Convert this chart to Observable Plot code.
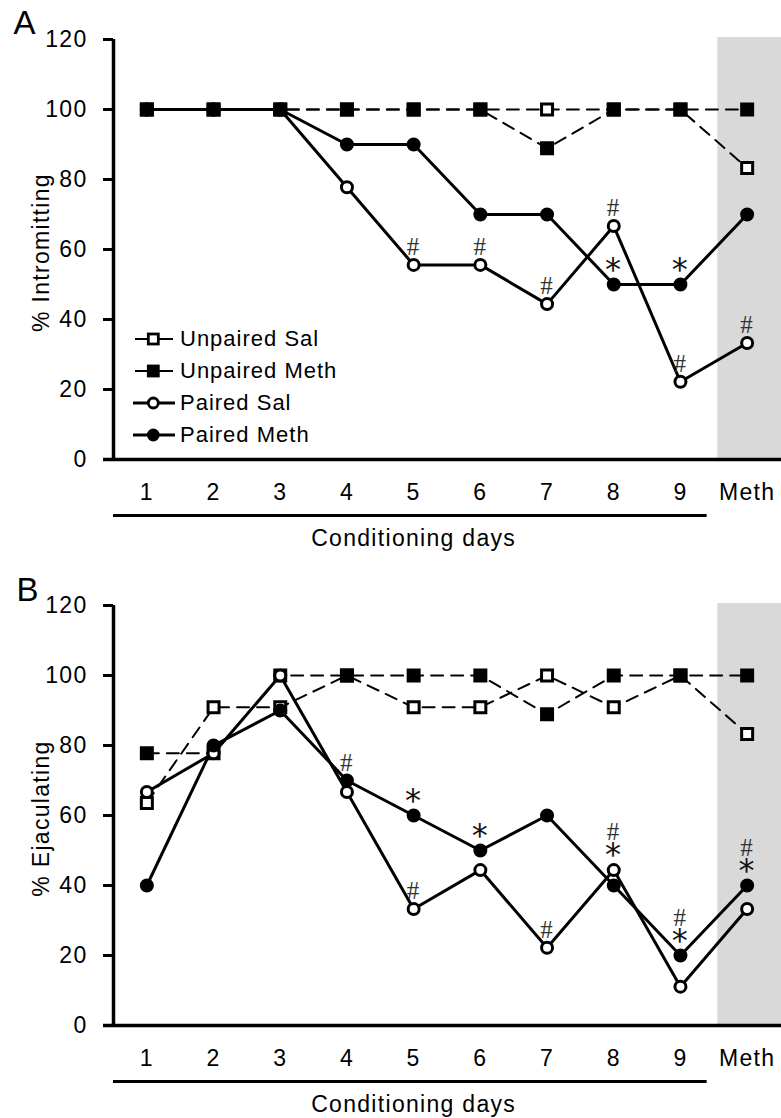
<!DOCTYPE html>
<html><head><meta charset="utf-8">
<script src="https://cdn.jsdelivr.net/npm/d3@7"></script>
<script src="https://cdn.jsdelivr.net/npm/@observablehq/plot@0.6"></script>
<style>
body{margin:0;background:#fff;}
#wrap{position:relative;width:781px;}
#wrap > svg{display:block}
.legend{position:absolute;left:130px;top:323px;font-family:"Liberation Sans",Arial,sans-serif;font-size:22px;letter-spacing:1px;color:#000}
.legend .row{display:flex;align-items:center;height:32px}
.legend .row svg{width:50px;height:32px;display:block}
</style></head><body><div id="wrap"></div>
<script>
// ---- data ----
const days = ["1","2","3","4","5","6","7","8","9","Meth"];
const yTicks = [0,20,40,60,80,100,120];
const seriesNames = ["Unpaired Sal","Unpaired Meth","Paired Sal","Paired Meth"];
const xAxisTitle = "Conditioning days";
// Panel A: % Intromitting
const intromUnpairedSal  = [100,100,100,100,100,100,100,100,100,83.3];
const intromUnpairedMeth = [100,100,100,100,100,100,88.9,100,100,100];
const intromPairedSal    = [100,100,100,77.8,55.6,55.6,44.4,66.7,22.2,33.3];
const intromPairedMeth   = [100,100,100,90,90,70,70,50,50,70];
// Panel B: % Ejaculating
const ejacUnpairedSal  = [63.6,90.9,90.9,100,90.9,90.9,100,90.9,100,83.3];
const ejacUnpairedMeth = [77.8,77.8,100,100,100,100,88.9,100,100,100];
const ejacPairedSal    = [66.7,77.8,100,66.7,33.3,44.4,22.2,44.4,11.1,33.3];
const ejacPairedMeth   = [40,80,90,70,60,50,60,40,20,40];
// significance markers: [day, series they sit above]
const intromHash = [["5","Paired Sal"],["6","Paired Sal"],["7","Paired Sal"],["8","Paired Sal"],["9","Paired Sal"],["Meth","Paired Sal"]];
const intromHashStacked = [];
const intromStar = [["8","Paired Meth"],["9","Paired Meth"]];
const ejacHash = [["4","Paired Meth"],["5","Paired Sal"],["7","Paired Sal"]];
const ejacHashStacked = [["8","Paired Sal"],["9","Paired Meth"],["Meth","Paired Meth"]];
const ejacStar = [["5","Paired Meth"],["6","Paired Meth"],["8","Paired Sal"],["9","Paired Meth"],["Meth","Paired Meth"]];

// ---- styles ----
const styleOf = {
  "Unpaired Sal":  {dash: "12,8", width: 2, symbol: "square", fill: "white"},
  "Unpaired Meth": {dash: "12,8", width: 2, symbol: "square", fill: "black"},
  "Paired Sal":    {dash: null,   width: 3, symbol: "circle", fill: "white"},
  "Paired Meth":   {dash: null,   width: 3, symbol: "circle", fill: "black"}
};
const xpos = d => days.indexOf(d) + 1;
const xDomain = [0.5, days.length + 0.5];
const yDomain = [0, 120];
const SANS = '"Liberation Sans", Arial, sans-serif';

function table(values) {
  return seriesNames.flatMap((s, k) => days.map((d, i) => ({series: s, day: d, value: values[k][i]})));
}

function panel({values, yLabel, letter, letterDx, letterDy, height, hash, hashStacked, star}) {
  const rows = table(values);
  const val = (day, s) => rows.find(r => r.day === day && r.series === s).value;
  const marks = [
    Plot.rect(["Meth"], {x1: d => xpos(d) - 0.5, x2: d => xpos(d) + 0.5, y1: () => yDomain[0], y2: () => yDomain[1],
      insetLeft: 4, insetRight: -1, insetTop: -2, fill: "#d9d9d9"}),
    Plot.axisY({ticks: yTicks, tickSize: 10, tickPadding: 16, strokeWidth: 3, fontSize: 23, label: null}),
    Plot.axisX({ticks: days.map(xpos), tickFormat: v => days[v - 1], tickSize: 0, tickPadding: 24, fontSize: 23, label: null}),
    Plot.ruleY([yDomain[0]], {insetLeft: -10, insetRight: -1, strokeWidth: 3.5}),
    Plot.ruleX([xDomain[0]], {y1: () => yDomain[0], y2: () => yDomain[1], strokeWidth: 3.5}),
    Plot.ruleY([yDomain[0]], {x1: () => xpos("1") - 0.5, x2: () => xpos("9") + 0.4, dy: 56, strokeWidth: 3}),
    Plot.text([xAxisTitle], {x: () => (xpos("1") + xpos("9")) / 2, y: () => yDomain[0], dy: 86, lineAnchor: "bottom", fontSize: 23}),
    Plot.text([yLabel], {frameAnchor: "left", rotate: -90, textAnchor: "middle", lineAnchor: "middle", dx: -72, dy: 3, fontSize: 23}),
    Plot.text([letter], {frameAnchor: "top-left", dx: letterDx, dy: letterDy, textAnchor: "start", lineAnchor: "bottom", fontSize: 33})
  ];
  for (const s of seriesNames) {
    const st = styleOf[s];
    marks.push(Plot.line(rows.filter(r => r.series === s), {x: r => xpos(r.day), y: "value", stroke: "black",
      strokeWidth: st.width, strokeDasharray: st.dash || undefined}));
  }
  for (const s of seriesNames) {
    const st = styleOf[s];
    marks.push(Plot.dot(rows.filter(r => r.series === s), {x: r => xpos(r.day), y: "value", symbol: st.symbol,
      r: st.symbol === "square" ? 6.2 : 5.5, fill: st.fill, stroke: "black", strokeWidth: 3}));
  }
  const at = {x: d => xpos(d[0]), y: d => val(d[0], d[1])};
  const hashOpts = {text: () => "#", fontFamily: '"Liberation Serif", serif', fontSize: 25, fill: "#333", lineAnchor: "bottom"};
  marks.push(Plot.text(hash, {...at, ...hashOpts, dy: -10}));
  marks.push(Plot.text(hashStacked, {...at, ...hashOpts, dy: -30}));
  marks.push(Plot.text(star, {...at, text: () => "*", fontFamily: '"DejaVu Sans", sans-serif', fontSize: 32,
    fill: "#111", lineAnchor: "bottom", dy: -5}));

  return Plot.plot({
    width: 781, height, marginTop: 39, marginBottom: height - 459, marginLeft: 113, marginRight: 1,
    x: {type: "linear", domain: xDomain},
    y: {domain: yDomain, label: null},
    style: {fontFamily: SANS, fontSize: "23px", letterSpacing: "1.3px", background: "white", color: "black", overflow: "visible"},
    marks
  });
}

const wrap = document.getElementById("wrap");
wrap.append(panel({
  values: [intromUnpairedSal, intromUnpairedMeth, intromPairedSal, intromPairedMeth],
  yLabel: "% Intromitting", letter: "A", letterDx: -100, letterDy: -6, height: 566,
  hash: intromHash, hashStacked: intromHashStacked, star: intromStar
}));
wrap.append(panel({
  values: [ejacUnpairedSal, ejacUnpairedMeth, ejacPairedSal, ejacPairedMeth],
  yLabel: "% Ejaculating", letter: "B", letterDx: -97, letterDy: -5, height: 552,
  hash: ejacHash, hashStacked: ejacHashStacked, star: ejacStar
}));

// legend (inside panel A)
const legend = document.createElement("div");
legend.className = "legend";
legend.innerHTML = seriesNames.map(s => {
  const st = styleOf[s];
  const line = st.symbol === "square"
    ? `<line x1="5" x2="43" y1="16" y2="16" stroke="black" stroke-width="2"/>`
    : `<line x1="3" x2="45" y1="16" y2="16" stroke="black" stroke-width="3"/>`;
  const mk = st.symbol === "square"
    ? `<rect x="18.3" y="11" width="10" height="10" fill="${st.fill}" stroke="black" stroke-width="2.8"/>`
    : `<circle cx="23.3" cy="16" r="5" fill="${st.fill}" stroke="black" stroke-width="2.8"/>`;
  return `<div class="row"><svg viewBox="0 0 50 32">${line}${mk}</svg><span>${s}</span></div>`;
}).join("");
wrap.append(legend);
</script>
</body></html>
